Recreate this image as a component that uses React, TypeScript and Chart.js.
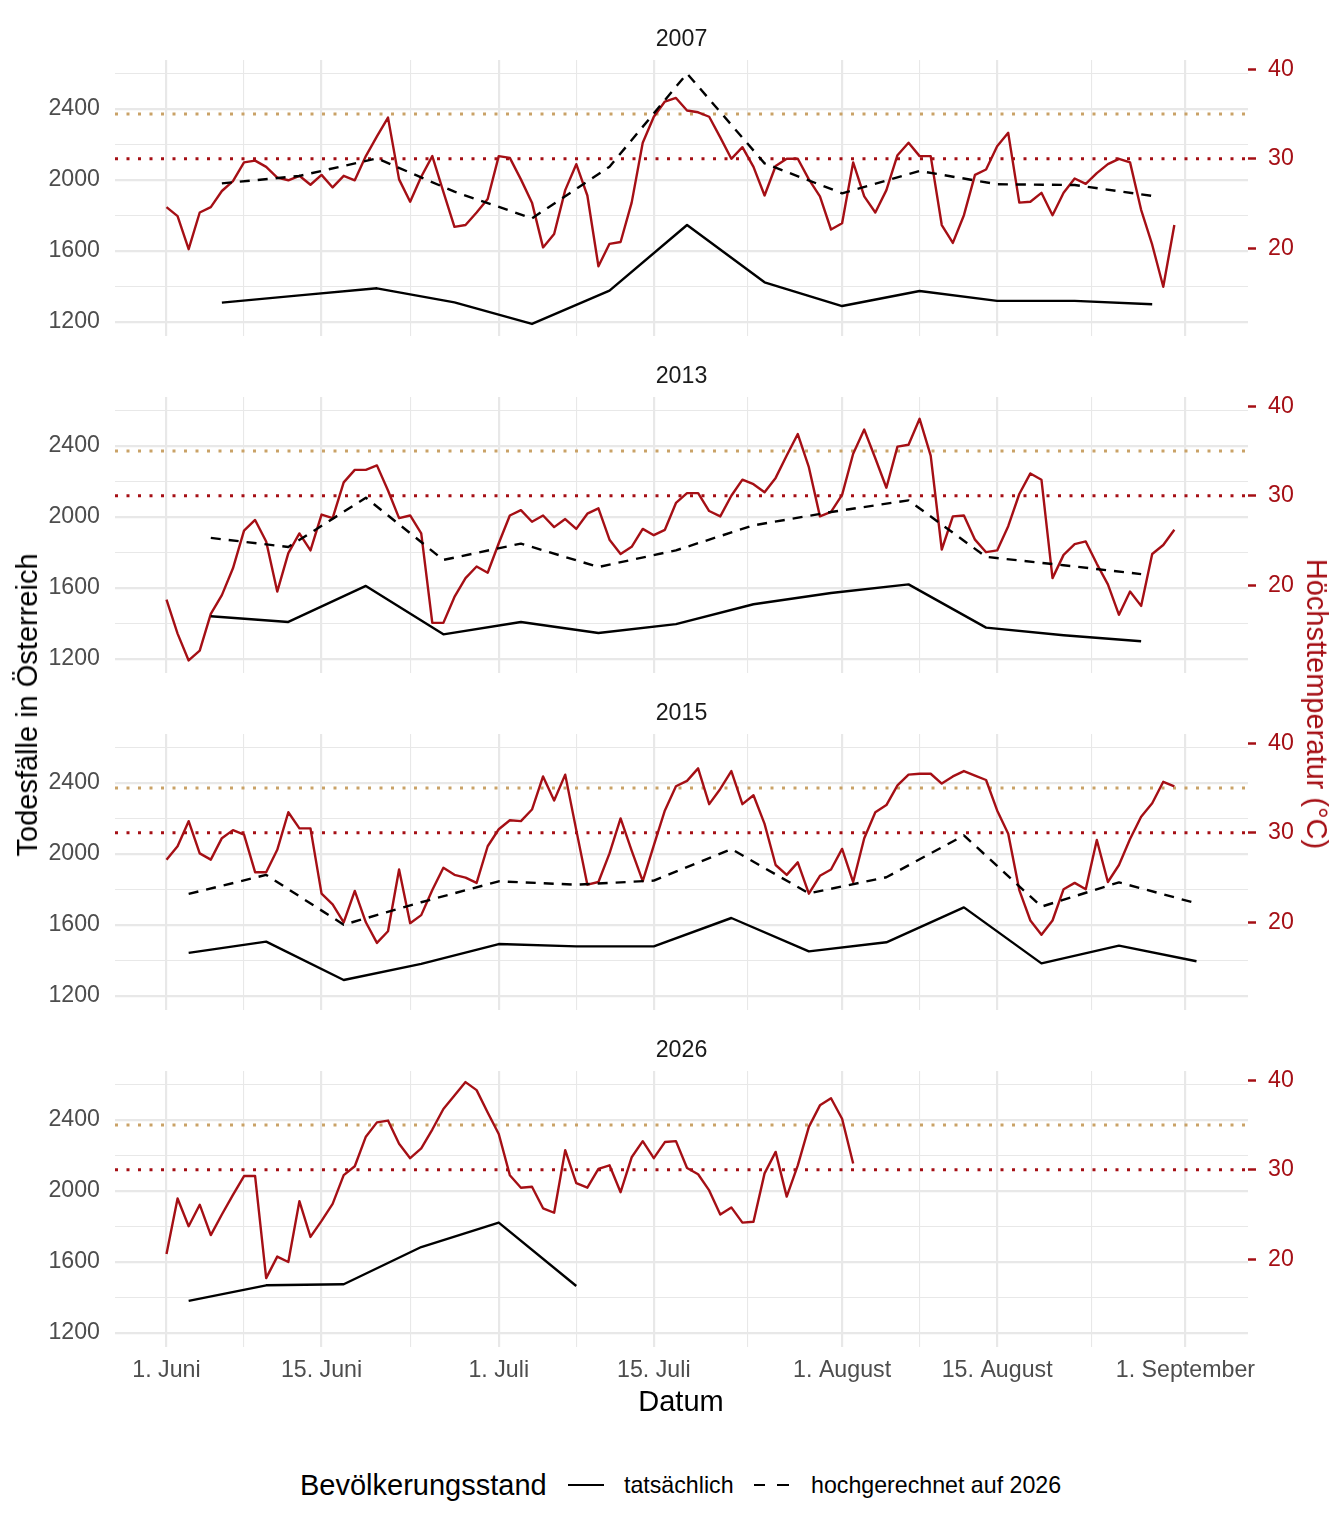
import React, { useEffect, useRef } from "react";
import { Chart, registerables } from "chart.js";

Chart.register(...registerables);

// Tageshöchsttemperatur (°C), ab 1. Juni, ein Wert pro Tag
const temp2007 = [
  24.6, 23.6, 19.9, 24.0, 24.6, 26.4, 27.5, 29.6, 29.8, 29.1,
  27.9, 27.6, 28.1, 27.1, 28.2, 26.8, 28.1, 27.6, 30.3, 32.5,
  34.6, 27.7, 25.2, 28.0, 30.3, 26.3, 22.4, 22.6, 24.0, 25.5,
  30.3, 30.1, 27.7, 25.1, 20.1, 21.6, 26.5, 29.4, 25.9, 18.0,
  20.5, 20.7, 25.1, 31.8, 34.7, 36.4, 36.8, 35.4, 35.2, 34.7,
  32.4, 30.0, 31.3, 29.1, 25.9, 29.2, 30.0, 30.0, 27.7, 25.8,
  22.1, 22.8, 29.6, 25.8, 24.0, 26.5, 30.4, 31.8, 30.3, 30.3,
  22.6, 20.6, 23.7, 28.2, 28.8, 31.4, 32.9, 25.1, 25.2, 26.2,
  23.7, 26.2, 27.8, 27.2, 28.4, 29.4, 30.0, 29.6, 24.3, 20.4,
  15.7, 22.6,
];
const temp2013 = [
  18.4, 14.6, 11.6, 12.7, 16.8, 18.9, 21.9, 26.1, 27.3, 24.9,
  19.3, 23.6, 25.8, 23.9, 27.9, 27.5, 31.5, 32.9, 32.9, 33.4,
  30.6, 27.5, 27.8, 25.8, 15.8, 15.8, 18.7, 20.8, 22.1, 21.4,
  24.7, 27.8, 28.4, 27.1, 27.8, 26.5, 27.4, 26.3, 28.0, 28.6,
  25.1, 23.5, 24.3, 26.3, 25.6, 26.2, 29.2, 30.3, 30.3, 28.3,
  27.7, 30.0, 31.8, 31.3, 30.4, 32.0, 34.5, 36.9, 33.2, 27.7,
  28.2, 30.1, 34.7, 37.4, 34.2, 30.9, 35.5, 35.7, 38.6, 34.5,
  24.0, 27.7, 27.8, 25.1, 23.7, 23.9, 26.6, 30.2, 32.5, 31.8,
  20.8, 23.4, 24.6, 24.9, 22.4, 20.1, 16.7, 19.3, 17.7, 23.5,
  24.5, 26.2,
];
const temp2015 = [
  27.0, 28.5, 31.3, 27.7, 27.0, 29.4, 30.3, 29.8, 25.6, 25.6,
  28.1, 32.3, 30.5, 30.5, 23.2, 22.0, 20.0, 23.5, 20.0, 17.7,
  19.0, 25.9, 19.9, 20.8, 23.6, 26.1, 25.3, 25.0, 24.4, 28.5,
  30.4, 31.4, 31.3, 32.6, 36.3, 33.6, 36.5, 30.3, 24.2, 24.5,
  27.7, 31.6, 28.0, 24.6, 28.6, 32.5, 35.2, 35.8, 37.2, 33.2,
  34.9, 36.9, 33.2, 34.2, 31.0, 26.4, 25.3, 26.7, 23.2, 25.2,
  25.9, 28.2, 24.5, 29.4, 32.3, 33.1, 35.3, 36.5, 36.6, 36.6,
  35.5, 36.3, 36.9, 36.4, 35.9, 32.5, 29.9, 23.6, 20.2, 18.6,
  20.2, 23.7, 24.4, 23.7, 29.2, 24.5, 26.4, 29.3, 31.8, 33.3,
  35.7, 35.2,
];
const temp2026 = [
  20.6, 26.8, 23.7, 26.1, 22.7, 25.0, 27.2, 29.3, 29.3, 17.9,
  20.3, 19.7, 26.5, 22.5, 24.3, 26.2, 29.4, 30.4, 33.7, 35.3,
  35.5, 32.9, 31.3, 32.4, 34.5, 36.8, 38.3, 39.8, 38.9, 36.4,
  34.0, 29.4, 28.0, 28.1, 25.7, 25.2, 32.2, 28.5, 28.0, 30.1,
  30.5, 27.5, 31.4, 33.2, 31.3, 33.1, 33.2, 30.2, 29.5, 27.7,
  25.0, 25.8, 24.1, 24.2, 29.6, 32.0, 27.0, 30.5, 34.8, 37.2,
  38.0, 35.7, 30.7,
];

// Wöchentliche Todesfälle (erster Wochenwert am angegebenen Tag nach 1. Juni, dann alle 7 Tage)
const weekStart2007 = 5;
const actual2007 = [1307, 1348, 1388, 1309, 1187, 1375, 1745, 1422, 1288, 1373, 1317, 1317, 1298];
const projected2007 = [1980, 2022, 2121, 1933, 1783, 2074, 2600, 2093, 1924, 2050, 1975, 1971, 1909];

const weekStart2013 = 4;
const actual2013 = [1439, 1407, 1610, 1337, 1407, 1345, 1395, 1507, 1570, 1619, 1375, 1332, 1298];
const projected2013 = [1881, 1830, 2108, 1757, 1849, 1717, 1811, 1952, 2027, 2093, 1774, 1727, 1677];

const weekStart2015 = 2;
const actual2015 = [1441, 1505, 1288, 1379, 1491, 1478, 1478, 1638, 1450, 1501, 1698, 1382, 1482, 1394];
const projected2015 = [1774, 1881, 1600, 1727, 1845, 1826, 1849, 2027, 1777, 1868, 2104, 1702, 1839, 1721];

const weekStart2026 = 2;
const actual2026 = [1379, 1467, 1473, 1683, 1821, 1463];
const projected2026: number[] = [];

const years = ["2007", "2013", "2015", "2026"];

// Achsen
const majorDays = [0, 14, 30, 44, 61, 75, 92];
const majorLabels = ["1. Juni", "15. Juni", "1. Juli", "15. Juli", "1. August", "15. August", "1. September"];
const minorDays = [7, 22, 37, 52.5, 68, 83.5];
const deathTicks = [1200, 1400, 1600, 1800, 2000, 2200, 2400, 2600];
const deathLabelTicks = [1200, 1600, 2000, 2400];
const tempTicks = [20, 30, 40];
const thresholds = [30, 35];
const thresholdColors = ["#A50F15", "#C9A267"];

const X_MIN = -4.65;
const X_MAX = 97.65;
const Y_MIN = 1119;
const Y_MAX = 2676;
const T_MIN = 10.2;
const T_MAX = 41.04;

const RED = "#A50F15";
const GRID = "#E8E8E8";
const FONT = '"Liberation Sans", Arial, Helvetica, sans-serif';

const PANEL_TOPS = [60, 397, 734, 1071];
const PLOT_H = 276;
const PAD = 34;
const X_AXIS_H = 45;

const panels = [
  { year: years[0], temp: temp2007, start: weekStart2007, actual: actual2007, projected: projected2007 },
  { year: years[1], temp: temp2013, start: weekStart2013, actual: actual2013, projected: projected2013 },
  { year: years[2], temp: temp2015, start: weekStart2015, actual: actual2015, projected: projected2015 },
  { year: years[3], temp: temp2026, start: weekStart2026, actual: actual2026, projected: projected2026 },
];

type PanelData = (typeof panels)[number];

function buildConfig(p: PanelData, showX: boolean): any {
  const weekly = (vals: number[]) => vals.map((v, i) => ({ x: p.start + 7 * i, y: v }));
  const allXTicks = [...majorDays, ...minorDays].sort((a, b) => a - b);

  return {
    type: "line",
    data: {
      datasets: [
        {
          label: "tatsächlich",
          data: weekly(p.actual),
          yAxisID: "y",
          borderColor: "#000000",
          borderWidth: 2.4,
          pointRadius: 0,
        },
        {
          label: "hochgerechnet auf 2026",
          data: weekly(p.projected),
          yAxisID: "y",
          borderColor: "#000000",
          borderWidth: 2.4,
          borderDash: [10, 8],
          pointRadius: 0,
        },
        {
          label: "Höchsttemperatur",
          data: p.temp.map((t, i) => ({ x: i, y: t })),
          yAxisID: "y1",
          borderColor: RED,
          borderWidth: 2.4,
          pointRadius: 0,
        },
        ...thresholds.map((t, i) => ({
          label: `${t} °C`,
          data: [
            { x: X_MIN, y: t },
            { x: X_MAX, y: t },
          ],
          yAxisID: "y1",
          borderColor: thresholdColors[i],
          borderWidth: 3,
          borderDash: [3, 8.5],
          pointRadius: 0,
        })),
      ],
    },
    options: {
      responsive: false,
      animation: false,
      events: [],
      layout: { padding: { top: PAD, bottom: showX ? 5 : PAD, left: 0, right: 0 } },
      plugins: { legend: { display: false }, tooltip: { enabled: false } },
      elements: { line: { tension: 0, borderJoinStyle: "round" } },
      scales: {
        x: {
          type: "linear",
          min: X_MIN,
          max: X_MAX,
          bounds: "data",
          afterBuildTicks: (s: any) => {
            s.ticks = allXTicks.map((v) => ({ value: v }));
          },
          afterFit: (s: any) => {
            s.height = showX ? X_AXIS_H : 0;
          },
          grid: {
            color: GRID,
            lineWidth: (ctx: any) => (ctx.tick && majorDays.includes(ctx.tick.value) ? 2.2 : 1.1),
            drawTicks: false,
          },
          border: { display: false },
          ticks: {
            display: showX,
            autoSkip: false,
            maxRotation: 0,
            padding: 10,
            color: "#4D4D4D",
            font: { family: FONT, size: 23.2 },
            callback: (v: number) => {
              const k = majorDays.indexOf(v);
              return k >= 0 ? majorLabels[k] : "";
            },
          },
        },
        y: {
          position: "left",
          min: Y_MIN,
          max: Y_MAX,
          bounds: "data",
          afterBuildTicks: (s: any) => {
            s.ticks = deathTicks.map((v) => ({ value: v }));
          },
          afterFit: (s: any) => {
            s.width = 115;
          },
          grid: {
            color: GRID,
            lineWidth: (ctx: any) => (ctx.tick && deathLabelTicks.includes(ctx.tick.value) ? 2.2 : 1.1),
            drawTicks: false,
          },
          border: { display: false },
          ticks: {
            padding: 15,
            color: "#4D4D4D",
            font: { family: FONT, size: 23.2 },
            callback: (v: number) => (deathLabelTicks.includes(v) ? String(v) : ""),
          },
        },
        y1: {
          position: "right",
          min: T_MIN,
          max: T_MAX,
          bounds: "data",
          afterBuildTicks: (s: any) => {
            s.ticks = tempTicks.map((v) => ({ value: v }));
          },
          afterFit: (s: any) => {
            s.width = 96;
          },
          grid: {
            drawOnChartArea: false,
            drawTicks: true,
            tickLength: 8,
            tickColor: RED,
            tickWidth: 2.5,
            color: RED,
          },
          border: { display: false },
          ticks: {
            padding: 12,
            color: RED,
            font: { family: FONT, size: 23.2 },
            callback: (v: number) => String(v),
          },
        },
      },
    },
  };
}

const textBase: React.CSSProperties = {
  position: "absolute",
  fontFamily: FONT,
  whiteSpace: "nowrap",
  margin: 0,
};

export default function App() {
  const r0 = useRef<HTMLCanvasElement>(null);
  const r1 = useRef<HTMLCanvasElement>(null);
  const r2 = useRef<HTMLCanvasElement>(null);
  const r3 = useRef<HTMLCanvasElement>(null);
  const refs = [r0, r1, r2, r3];

  useEffect(() => {
    const charts: Chart[] = [];
    panels.forEach((p, k) => {
      const el = refs[k].current;
      if (el) charts.push(new Chart(el, buildConfig(p, k === panels.length - 1)));
    });
    return () => charts.forEach((c) => c.destroy());
  }, []);

  return (
    <div
      style={{
        position: "absolute",
        left: 0,
        top: 0,
        width: 1344,
        height: 1536,
        background: "#ffffff",
        overflow: "hidden",
      }}
    >
      {panels.map((p, k) => {
        const last = k === panels.length - 1;
        const h = PAD + PLOT_H + (last ? X_AXIS_H + 5 : PAD);
        return (
          <React.Fragment key={p.year}>
            <canvas
              ref={refs[k]}
              width={1344}
              height={h}
              style={{ position: "absolute", left: 0, top: PANEL_TOPS[k] - PAD, width: 1344, height: h }}
            />
            <div
              style={{
                ...textBase,
                left: 115,
                width: 1133,
                top: PANEL_TOPS[k] - 22 - 14,
                lineHeight: "28px",
                fontSize: 23.2,
                color: "#1A1A1A",
                textAlign: "center",
              }}
            >
              {p.year}
            </div>
          </React.Fragment>
        );
      })}

      <div
        style={{
          ...textBase,
          left: 27,
          top: 705,
          fontSize: 29,
          lineHeight: "34px",
          color: "#000000",
          transform: "translate(-50%, -50%) rotate(-90deg)",
        }}
      >
        Todesfälle in Österreich
      </div>
      <div
        style={{
          ...textBase,
          left: 1317,
          top: 704,
          fontSize: 29,
          lineHeight: "34px",
          color: RED,
          transform: "translate(-50%, -50%) rotate(90deg)",
        }}
      >
        Höchsttemperatur (°C)
      </div>
      <div
        style={{
          ...textBase,
          left: 681,
          top: 1401,
          fontSize: 29,
          lineHeight: "34px",
          color: "#000000",
          transform: "translate(-50%, -50%)",
        }}
      >
        Datum
      </div>

      {/* Legende */}
      <div style={{ ...textBase, left: 300, top: 1485 - 17, fontSize: 29, lineHeight: "34px", color: "#000" }}>
        Bevölkerungsstand
      </div>
      <div style={{ position: "absolute", left: 568, top: 1484, width: 36, height: 0, borderTop: "2.4px solid #000" }} />
      <div style={{ ...textBase, left: 624, top: 1485 - 14, fontSize: 23.2, lineHeight: "28px", color: "#000" }}>
        tatsächlich
      </div>
      <div style={{ position: "absolute", left: 754, top: 1484, width: 11, height: 0, borderTop: "2.4px solid #000" }} />
      <div style={{ position: "absolute", left: 777, top: 1484, width: 12, height: 0, borderTop: "2.4px solid #000" }} />
      <div style={{ ...textBase, left: 811, top: 1485 - 14, fontSize: 23.2, lineHeight: "28px", color: "#000" }}>
        hochgerechnet auf 2026
      </div>
    </div>
  );
}
